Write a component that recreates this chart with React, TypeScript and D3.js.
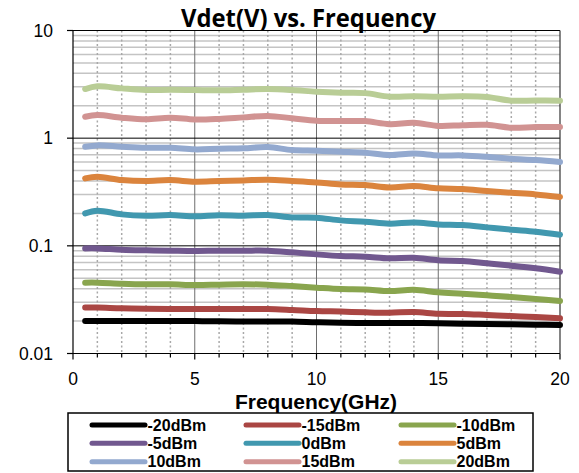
import React from "react";
import * as d3 from "d3";

const freqs = [0.5, 1, 2, 3, 4, 5, 6, 7, 8, 9, 10, 11, 12, 13, 14, 15, 16, 17, 18, 19, 20];

const seriesNames = ["-20dBm", "-15dBm", "-10dBm", "-5dBm", "0dBm", "5dBm", "10dBm", "15dBm", "20dBm"];
const seriesColors = ["#000000", "#AA4643", "#89A54E", "#71588F", "#4198AF", "#DB843D", "#93A9CF", "#D19392", "#B9CD96"];

const vM20 = [0.0200, 0.0200, 0.0200, 0.0200, 0.0200, 0.0200, 0.0199, 0.0198, 0.0198, 0.0198, 0.0195, 0.0193, 0.0192, 0.0192, 0.0192, 0.0191, 0.0189, 0.0188, 0.0187, 0.0185, 0.0184];
const vM15 = [0.0267, 0.0267, 0.0263, 0.0261, 0.0259, 0.0259, 0.0259, 0.0259, 0.0259, 0.0254, 0.0248, 0.0245, 0.0241, 0.0239, 0.0243, 0.0234, 0.0233, 0.0228, 0.0223, 0.0218, 0.0212];
const vM10 = [0.0455, 0.0455, 0.0445, 0.0439, 0.0439, 0.0433, 0.0436, 0.0439, 0.0436, 0.0423, 0.0409, 0.0397, 0.0394, 0.0380, 0.0391, 0.0370, 0.0359, 0.0347, 0.0335, 0.0321, 0.0307];
const vM5 = [0.0947, 0.0947, 0.0920, 0.0908, 0.0901, 0.0895, 0.0901, 0.0901, 0.0901, 0.0870, 0.0833, 0.0804, 0.0793, 0.0765, 0.0776, 0.0733, 0.0723, 0.0688, 0.0654, 0.0618, 0.0575];
const v0 = [0.200, 0.212, 0.196, 0.1905, 0.193, 0.1878, 0.192, 0.1905, 0.193, 0.1838, 0.1825, 0.1724, 0.1675, 0.1605, 0.165, 0.1582, 0.156, 0.1484, 0.1412, 0.1353, 0.1269];
const v5 = [0.423, 0.438, 0.408, 0.400, 0.408, 0.394, 0.400, 0.405, 0.411, 0.400, 0.388, 0.372, 0.367, 0.349, 0.359, 0.342, 0.337, 0.323, 0.311, 0.300, 0.284];
const v10 = [0.833, 0.857, 0.833, 0.815, 0.815, 0.787, 0.798, 0.804, 0.827, 0.775, 0.764, 0.748, 0.732, 0.697, 0.722, 0.692, 0.692, 0.672, 0.644, 0.626, 0.600];
const v15 = [1.58, 1.64, 1.55, 1.50, 1.55, 1.49, 1.51, 1.56, 1.61, 1.53, 1.45, 1.44, 1.44, 1.35, 1.39, 1.30, 1.32, 1.33, 1.25, 1.27, 1.27];
const v20 = [2.86, 3.03, 2.90, 2.80, 2.82, 2.80, 2.78, 2.82, 2.86, 2.80, 2.70, 2.64, 2.62, 2.43, 2.45, 2.43, 2.45, 2.41, 2.23, 2.24, 2.23];

const seriesValues = [vM20, vM15, vM10, vM5, v0, v5, v10, v15, v20];

const xTicks = [0, 5, 10, 15, 20];
const yTicks = [0.01, 0.1, 1, 10];
const yTickLabels = ["0.01", "0.1", "1", "10"];

const W = 579;
const H = 473;
const left = 73;
const right = 560;
const top = 30.5;
const bottom = 353.5;

export default function App() {
  const x = d3.scaleLinear().domain([0, 20]).range([left, right]);
  const y = d3.scaleLog().domain([0.01, 10]).range([bottom, top]);

  const minorX = d3.range(1, 20).filter((v) => v % 5 !== 0);
  const minorY: number[] = [];
  [0.01, 0.1, 1].forEach((dec) => {
    for (let k = 2; k <= 9; k++) minorY.push(dec * k);
  });

  const line = d3
    .line<[number, number]>()
    .x((d) => x(d[0]))
    .y((d) => y(d[1]))
    .curve(d3.curveCatmullRom.alpha(0.5));

  const font = "Arial, 'Liberation Sans', sans-serif";

  const legLeft = 68, legTop = 413, legRight = 533, legBottom = 471;
  const colLineX = [92, 246, 401];
  const rowY = [425, 443.3, 461.7];

  return (
    <svg width={W} height={H} style={{ position: "absolute", left: 0, top: 0 }} fontFamily={font}>
      <rect x={0} y={0} width={W} height={H} fill="#ffffff" />
      {minorY.map((v, i) => (
        <line key={"my" + i} x1={left} x2={right} y1={y(v)} y2={y(v)} stroke="#c4c4c4" strokeWidth={1.5} />
      ))}
      {minorX.map((v) => (
        <line key={"mx" + v} x1={x(v)} x2={x(v)} y1={top} y2={bottom} stroke="#a8a8a8" strokeWidth={1.5} strokeDasharray="2,2.5" />
      ))}
      {[5, 10, 15].map((v) => (
        <line key={"Mx" + v} x1={x(v)} x2={x(v)} y1={top} y2={bottom} stroke="#6e6e6e" strokeWidth={1} />
      ))}
      {[0.1, 1, 10].map((v) => (
        <line key={"My" + v} x1={left} x2={right} y1={y(v)} y2={y(v)} stroke="#000000" strokeWidth={1} />
      ))}
      <line x1={right} x2={right} y1={top} y2={bottom} stroke="#333333" strokeWidth={1.2} />
      <line x1={left} x2={left} y1={top} y2={bottom} stroke="#000" strokeWidth={1.2} />
      <line x1={left} x2={right} y1={bottom} y2={bottom} stroke="#000" strokeWidth={1.2} />
      {yTicks.map((v) => (
        <line key={"yt" + v} x1={left - 6} x2={left} y1={y(v)} y2={y(v)} stroke="#000" strokeWidth={1.2} />
      ))}
      {d3.range(0, 21).map((v) => (
        <line key={"xt" + v} x1={x(v)} x2={x(v)} y1={bottom} y2={bottom + (v % 5 === 0 ? 6 : 4)} stroke="#000" strokeWidth={1.2} />
      ))}
      {yTicks.map((v, i) => (
        <text key={"yl" + v} x={left - 20} y={y(v) + 6} textAnchor="end" fontSize={17.5} fill="#000">
          {yTickLabels[i]}
        </text>
      ))}
      {xTicks.map((v) => (
        <text key={"xl" + v} x={x(v)} y={385} textAnchor="middle" fontSize={17.5} fill="#000">
          {v}
        </text>
      ))}
      {seriesValues.map((vals, i) => (
        <path
          key={"s" + i}
          d={line(freqs.map((f, j) => [f, vals[j]] as [number, number])) || ""}
          fill="none"
          stroke={seriesColors[i]}
          strokeWidth={6}
          strokeLinecap="round"
          strokeLinejoin="round"
        />
      ))}
      <text
        x={181}
        y={27.3}
        fontSize={25}
        fontWeight="bold"
        fontFamily="'Open Sans', sans-serif"
        textLength={255}
        lengthAdjust="spacingAndGlyphs"
        fill="#000"
      >
        Vdet(V) vs. Frequency
      </text>
      <text x={316} y={409} textAnchor="middle" fontSize={21} fontWeight="bold" fill="#000">
        Frequency(GHz)
      </text>
      <rect x={legLeft} y={legTop} width={legRight - legLeft} height={legBottom - legTop} fill="#fff" stroke="#000" strokeWidth={1.5} />
      {seriesNames.map((name, i) => {
        const c = i % 3;
        const r = Math.floor(i / 3);
        return (
          <g key={"lg" + i}>
            <line x1={colLineX[c]} x2={colLineX[c] + 53} y1={rowY[r]} y2={rowY[r]} stroke={seriesColors[i]} strokeWidth={5} strokeLinecap="round" />
            <text x={colLineX[c] + 55.5} y={rowY[r] + 5.5} fontSize={16} fontWeight="bold" fill="#000">
              {name}
            </text>
          </g>
        );
      })}
    </svg>
  );
}
